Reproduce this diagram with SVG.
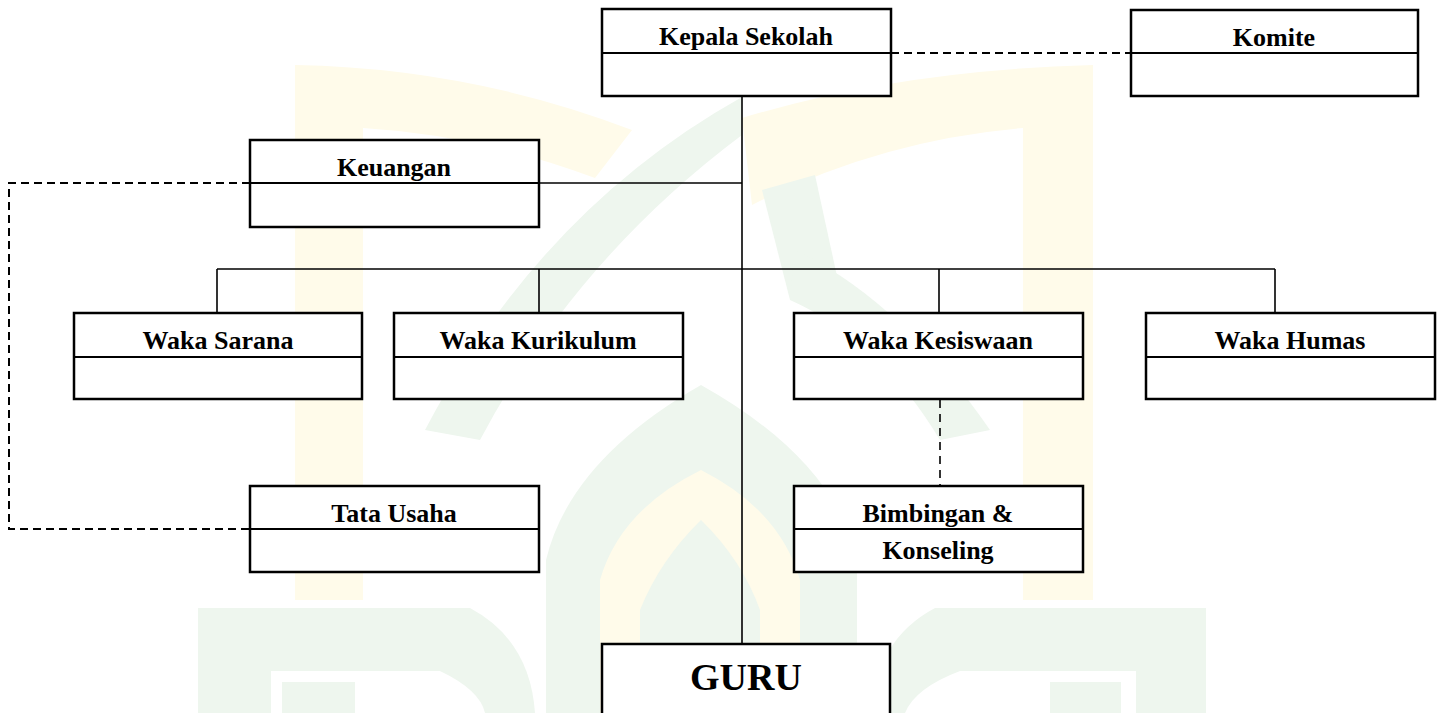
<svg xmlns="http://www.w3.org/2000/svg" width="1443" height="713" viewBox="0 0 1443 713">
<style>
.box{fill:#fff;stroke:#000;stroke-width:2.5}
.div{stroke:#000;stroke-width:1.8}
.lbl{font-family:"Liberation Serif","Times New Roman",serif;font-weight:bold;font-size:26px;text-anchor:middle;fill:#000}
.big{font-size:38px}
.conn{fill:none;stroke:#000;stroke-width:1.6}
.dash{fill:none;stroke:#000;stroke-width:2;stroke-dasharray:8 5}
.dash2{fill:none;stroke:#000;stroke-width:1.6;stroke-dasharray:8 6}
.wmy{fill:#fffbea}
.wmg{fill:#eef6ee}
.wmw{fill:#fff}
</style>
<rect width="1443" height="713" fill="#fff"/>
<g id="watermark">
  <path class="wmy" d="M295,600 L295,65 Q470,68 632,130 L595,178 Q480,135 363,128 L363,600 Z"/>
  <path class="wmy" d="M1093,600 L1093,65 Q900,70 742,118 L752,205 Q880,140 1023,128 L1023,600 Z"/>
  <path class="wmg" d="M742,97 Q540,210 425,430 L480,440 Q575,260 742,135 Z"/>
  <path class="wmg" d="M762,190 L815,175 L840,290 L790,300 Z"/>
  <path class="wmg" d="M795,250 Q900,300 990,430 L940,440 Q880,340 790,300 Z"/>
  <path class="wmg" d="M546,713 L546,560 Q570,460 701,385 Q835,460 857,560 L857,713 Z"/>
  <path class="wmy" d="M600,713 L600,580 Q620,510 701,470 Q780,510 800,580 L800,713 Z"/>
  <path class="wmg" d="M640,713 L640,610 Q660,560 701,520 Q742,560 760,610 L760,713 Z"/>
  <path class="wmg" d="M198,713 L198,608 L470,608 Q530,640 535,713 Z"/>
  <path class="wmw" d="M271,713 L271,671 L440,671 Q480,690 485,713 Z"/>
  <rect class="wmg" x="282" y="682" width="73" height="31"/>
  <path class="wmg" d="M872,713 Q875,640 935,608 L1206,608 L1206,713 Z"/>
  <path class="wmw" d="M905,713 Q915,688 960,671 L1136,671 L1136,713 Z"/>
  <rect class="wmg" x="1050" y="682" width="71" height="31"/>
</g>
<g id="connectors">
  <line class="conn" x1="742" y1="96" x2="742" y2="644"/>
  <line class="conn" x1="539" y1="183" x2="742" y2="183"/>
  <line class="conn" x1="217" y1="269" x2="1275" y2="269"/>
  <line class="conn" x1="217" y1="269" x2="217" y2="313"/>
  <line class="conn" x1="539" y1="269" x2="539" y2="313"/>
  <line class="conn" x1="939" y1="269" x2="939" y2="313"/>
  <line class="conn" x1="1275" y1="269" x2="1275" y2="313"/>
  <line class="dash" x1="891" y1="53" x2="1131" y2="53"/>
  <path class="dash" d="M250,183 L9,183 L9,529 L250,529"/>
  <line class="dash2" x1="940" y1="400" x2="940" y2="486"/>
</g>
<g id="kepala">
  <rect class="box" x="602" y="9" width="289" height="87"/>
  <line class="div" x1="602" y1="53" x2="891" y2="53"/>
  <text class="lbl" x="746" y="45">Kepala Sekolah</text>
</g>
<g id="komite">
  <rect class="box" x="1131" y="10" width="287" height="86"/>
  <line class="div" x1="1131" y1="53" x2="1418" y2="53"/>
  <text class="lbl" x="1274" y="46">Komite</text>
</g>
<g id="keuangan">
  <rect class="box" x="250" y="140" width="289" height="87"/>
  <line class="div" x1="250" y1="183" x2="539" y2="183"/>
  <text class="lbl" x="394" y="176">Keuangan</text>
</g>
<g id="waka-sarana">
  <rect class="box" x="74" y="313" width="288" height="86"/>
  <line class="div" x1="74" y1="357" x2="362" y2="357"/>
  <text class="lbl" x="218" y="349">Waka Sarana</text>
</g>
<g id="waka-kurikulum">
  <rect class="box" x="394" y="313" width="289" height="86"/>
  <line class="div" x1="394" y1="357" x2="683" y2="357"/>
  <text class="lbl" x="538" y="349">Waka Kurikulum</text>
</g>
<g id="waka-kesiswaan">
  <rect class="box" x="794" y="313" width="289" height="86"/>
  <line class="div" x1="794" y1="357" x2="1083" y2="357"/>
  <text class="lbl" x="938" y="349">Waka Kesiswaan</text>
</g>
<g id="waka-humas">
  <rect class="box" x="1146" y="313" width="289" height="86"/>
  <line class="div" x1="1146" y1="357" x2="1435" y2="357"/>
  <text class="lbl" x="1290" y="349">Waka Humas</text>
</g>
<g id="tata-usaha">
  <rect class="box" x="250" y="486" width="289" height="86"/>
  <line class="div" x1="250" y1="529" x2="539" y2="529"/>
  <text class="lbl" x="394" y="522">Tata Usaha</text>
</g>
<g id="bimbingan-konseling">
  <rect class="box" x="794" y="486" width="289" height="86"/>
  <line class="div" x1="794" y1="529" x2="1083" y2="529"/>
  <text class="lbl" x="938" y="522">Bimbingan &amp;</text>
  <text class="lbl" x="938" y="559">Konseling</text>
</g>
<g id="guru">
  <rect class="box" x="602" y="644" width="288" height="90"/>
  <text class="lbl big" x="746" y="690">GURU</text>
</g>
</svg>
